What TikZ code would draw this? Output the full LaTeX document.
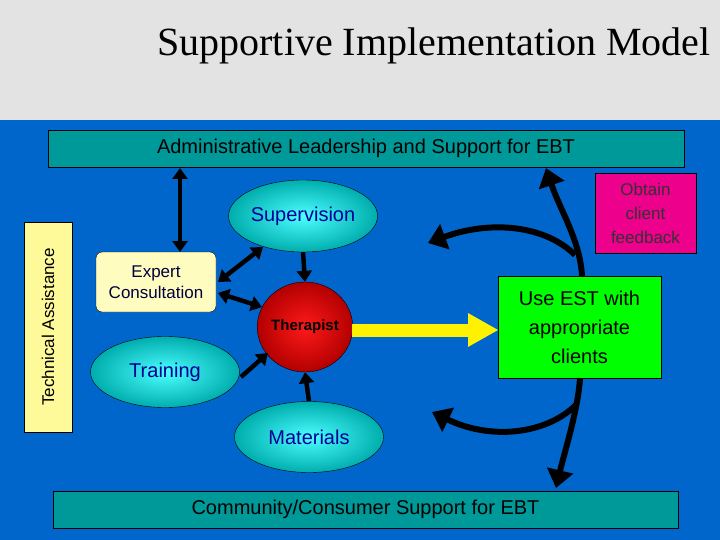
\documentclass[tikz,border=0pt]{standalone}
\usepackage{fontspec}
\setmainfont{Liberation Sans}
\newfontfamily\serifx{Liberation Serif}
\usetikzlibrary{shapes.geometric,arrows.meta}
\definecolor{bg}{HTML}{0066CC}
\definecolor{teal}{HTML}{009999}
\definecolor{txtblue}{HTML}{000099}
\tikzset{
 ell/.style={ellipse,draw=black,inner sep=0pt,inner color=cyan!70!white,outer color=teal!80!cyan,text=txtblue,font=\fontsize{20}{22}\selectfont},
 barbox/.style={draw=black,fill=teal,font=\fontsize{20}{22}\selectfont},
 blk/.style={line width=4.5pt,draw=black,-{Triangle[length=11pt,width=15pt]}},
 dbl/.style={line width=4.5pt,draw=black,{Triangle[length=11pt,width=15pt]}-{Triangle[length=11pt,width=15pt]}},
 bigarr/.style={line width=6pt,-{Triangle[length=18pt,width=26pt]}},
}
\begin{document}
\begin{tikzpicture}[x=1pt,y=-1pt]
\useasboundingbox (0,0) rectangle (720,540);
\fill[gray!22] (0,0) rectangle (720,120);
\fill[bg] (0,120) rectangle (720,540);
\node[font=\serifx\fontsize{40}{44}\selectfont] (title) at (434,46) {Supportive Implementation Model};
\node[barbox,minimum width=636pt,minimum height=37pt] (admin) at (366,148.5) {Administrative Leadership and Support for EBT};
\node[barbox,minimum width=625pt,minimum height=37pt] (comm) at (365.5,509.5) {Community/Consumer Support for EBT};
\node[draw=black,fill=yellow!40,minimum width=210pt,minimum height=48pt,rotate=90,font=\fontsize{17}{19}\selectfont] (ta) at (48,327) {Technical Assistance};
\node[ell,minimum width=149pt,minimum height=72pt] (sup) at (303,216) {Supervision};
\node[ell,minimum width=149pt,minimum height=71pt] (train) at (165,372) {Training};
\node[ell,minimum width=149pt,minimum height=71pt] (mat) at (309,437) {Materials};
\node[ellipse,draw=black,inner sep=0pt,inner color=red!90!white,outer color=red!70!black,minimum width=95pt,minimum height=90pt,font=\bfseries\fontsize{15}{17}\selectfont] (ther) at (305,327) {Therapist};
\node[draw=black,rounded corners=6pt,fill=yellow!25!white,minimum width=120pt,minimum height=60pt,align=center,font=\fontsize{17}{21}\selectfont,text=txtblue!40!black] (exp) at (156,282) {Expert\\Consultation};
\node[draw=black,fill=green,minimum width=163pt,minimum height=102pt,align=center,font=\fontsize{20}{29}\selectfont] (est) at (579.5,327) {Use EST with\\appropriate\\clients};
\node[draw=black,fill=magenta,minimum width=101pt,minimum height=80pt,align=center,font=\fontsize{17}{24}\selectfont,text=black!80] (obt) at (645.5,213) {Obtain\\client\\feedback};
\coordinate (adminA) at (180,168);
\coordinate (expA) at (180,252);
\draw[dbl] (adminA) -- (expA);
\draw[dbl] (263,247) -- (218,282);
\draw[dbl] (218,293) -- (262,307);
\draw[blk] (241,377) -- (268,353);
\draw[blk] (sup.south) -- (ther.north);
\draw[blk] (mat.north) -- (ther.south);
\coordinate (therR) at (352,330);
\coordinate (estL) at (498,330);
\draw[line width=13pt,yellow] (therR) -- (470,330);
\fill[yellow] (468,313) -- (estL) -- (468,347) -- cycle;
\coordinate (up) at (546,168);
\coordinate (upl) at (428,243);
\coordinate (dn) at (556,488);
\coordinate (dnl) at (432,412);
\draw[bigarr] (582,276) .. controls (580,240) and (560,210) .. (up);
\draw[bigarr] (575,255) .. controls (545,225) and (490,220) .. (upl);
\draw[bigarr] (580,378) .. controls (578,410) and (565,450) .. (dn);
\draw[bigarr] (576,405) .. controls (545,435) and (490,440) .. (dnl);
\end{tikzpicture}
\end{document}
